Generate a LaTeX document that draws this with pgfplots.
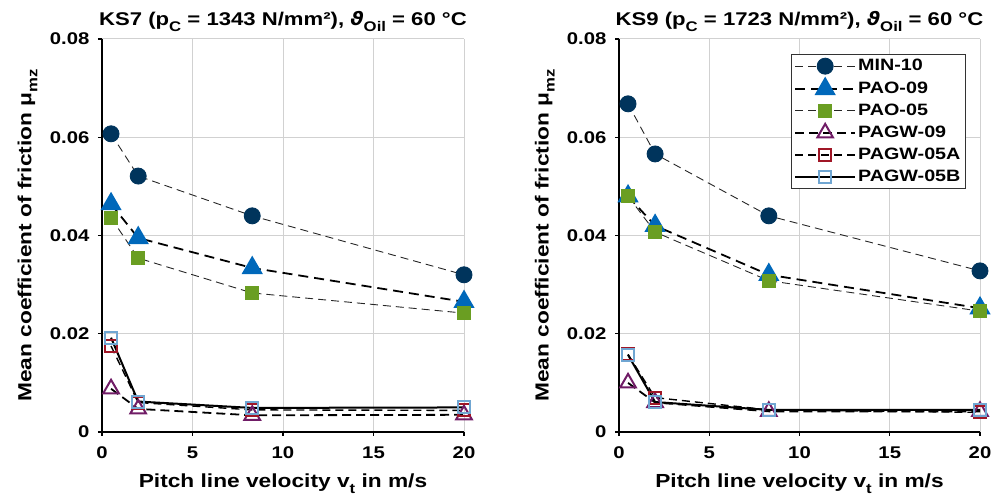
\documentclass[border=0pt]{standalone}
\usepackage{fontspec}
\setmainfont{Liberation Sans}[FakeStretch=1.2]
\newfontfamily\djv{DejaVu Sans}[FakeStretch=1.1]
\usepackage{pgfplots}
\usepackage{pgfplotstable}
\pgfplotsset{compat=1.18}

\definecolor{cMIN}{RGB}{0,52,92}
\definecolor{cPAOnine}{RGB}{0,104,186}
\definecolor{cPAOfive}{RGB}{106,158,34}
\definecolor{cPAGWnine}{RGB}{112,28,102}
\definecolor{cPAGWfiveA}{RGB}{160,22,38}
\definecolor{cPAGWfiveB}{RGB}{112,166,210}

% lowered subscript, a bit larger than \textsubscript
\newcommand{\sub}[1]{\raisebox{-0.32em}{\fontsize{14}{14}\selectfont #1}}
\newcommand{\thetaoil}{{\djv\bfseries\itshape ϑ}\sub{Oil}}

% KS7, p_C = 1343 N/mm^2
\pgfplotstableread{
v    min10   pao09   pao05   pagw09  pagw05a pagw05b
0.5  0.0607  0.0464  0.0436  0.0088  0.0175  0.0192
2.0  0.0521  0.0395  0.0354  0.0047  0.0060  0.0062
8.3  0.0440  0.0334  0.0283  0.0034  0.0045  0.0049
20   0.0320  0.0265  0.0242  0.0035  0.0044  0.0050
}\kssieben

% KS9, p_C = 1723 N/mm^2
\pgfplotstableread{
v    min10   pao09   pao05   pagw09  pagw05a pagw05b
0.5  0.0668  0.0480  0.0480  0.0100  0.0158  0.0157
2.0  0.0566  0.0420  0.0407  0.0060  0.0070  0.0061
8.3  0.0440  0.0320  0.0308  0.0042  0.0045  0.0045
20   0.0328  0.0252  0.0246  0.0042  0.0040  0.0045
}\ksneun

\pgfplotsset{
  fric/.style={
    scale only axis, height=393bp,
    xmin=0, xmax=20, ymin=0, ymax=0.08,
    xtick={0,5,10,15,20},
    ytick={0,0.02,0.04,0.06,0.08},
    yticklabels={0,0.02,0.04,0.06,0.08},
    scaled y ticks=false,
    axis x line*=bottom, axis y line*=left,
    axis line style={line width=2bp, -},
    tick align=outside, major tick length=4bp,
    tick style={black, line width=1.2bp},
    grid=major, grid style={black!18, line width=1bp},
    /pgf/number format/assume math mode=true,
    ticklabel style={font=\bfseries\fontsize{17}{20}\selectfont},
    xticklabel shift=7bp,
    yticklabel style={xshift=-5bp},
    label style={font=\bfseries\fontsize{19}{22}\selectfont},
    title style={font=\bfseries\fontsize{18.5}{22}\selectfont,
      at={(axis description cs:0.5,1.018)}, anchor=base},
    xlabel={Pitch line velocity v\sub{t} in m/s},
    ylabel={Mean coefficient of friction μ\sub{mz}},
    xlabel style={at={(axis description cs:0.5,-0.141)}, anchor=base},
    ylabel style={at={(axis description cs:-0.195,0.5)}, anchor=base},
    legend image code/.code={%
      \draw[mark repeat=2,mark phase=2,##1] plot coordinates {(0bp,0bp) (30bp,0bp) (60bp,0bp)};},
  },
  sMIN/.style={black!85, line width=0.9bp, dash pattern=on 8bp off 5bp,
    mark=*, mark size=8bp, mark options={solid, fill=cMIN, draw=cMIN}},
  sPAOnine/.style={black, line width=1.8bp, dash pattern=on 10bp off 6bp,
    mark=triangle*, mark size=10.5bp, mark options={solid, fill=cPAOnine, draw=cPAOnine}},
  sPAOfive/.style={black!85, line width=0.9bp, dash pattern=on 8bp off 5bp,
    mark=square*, mark size=6.5bp, mark options={solid, fill=cPAOfive, draw=cPAOfive}},
  sPAGWnine/.style={black, line width=1.8bp, dash pattern=on 9bp off 5bp,
    mark=triangle, mark size=9bp, mark options={solid, draw=cPAGWnine, line width=2bp}},
  sPAGWfiveA/.style={black, line width=1.4bp, dash pattern=on 8bp off 5bp,
    mark=square, mark size=6bp, mark options={solid, draw=cPAGWfiveA, line width=2bp}},
  sPAGWfiveB/.style={black, line width=2bp, solid,
    mark=square, mark size=6bp, mark options={solid, draw=cPAGWfiveB, line width=2bp}},
}

\begin{document}
\begin{tikzpicture}
\path[use as bounding box] (0bp,0bp) rectangle (992bp,498bp);

\begin{axis}[fric, width=362bp, at={(102bp,66bp)}, anchor=south west,
  title={KS7 (p\sub{C} = 1343 N/mm²),\ \thetaoil{} = 60 °C}]
\addplot[sMIN] table[x=v, y=min10] {\kssieben};
\addplot[sPAOnine] table[x=v, y=pao09] {\kssieben};
\addplot[sPAOfive] table[x=v, y=pao05] {\kssieben};
\addplot[sPAGWnine] table[x=v, y=pagw09] {\kssieben};
\addplot[sPAGWfiveA] table[x=v, y=pagw05a] {\kssieben};
\addplot[sPAGWfiveB] table[x=v, y=pagw05b] {\kssieben};
\end{axis}

\begin{axis}[fric, width=361bp, at={(619bp,66bp)}, anchor=south west,
  title={KS9 (p\sub{C} = 1723 N/mm²),\ \thetaoil{} = 60 °C},
  legend style={at={(axis description cs:0.961,0.962)}, anchor=north east,
    draw=black!80, line width=1bp, fill=white,
    font=\bfseries\fontsize{16.5}{19}\selectfont,
    cells={anchor=west}, row sep=2.5bp,
    nodes={inner sep=2bp, text height=12.5bp, text depth=3bp}}]
\addplot[sMIN] table[x=v, y=min10] {\ksneun};
\addlegendentry{MIN-10}
\addplot[sPAOnine] table[x=v, y=pao09] {\ksneun};
\addlegendentry{PAO-09}
\addplot[sPAOfive] table[x=v, y=pao05] {\ksneun};
\addlegendentry{PAO-05}
\addplot[sPAGWnine] table[x=v, y=pagw09] {\ksneun};
\addlegendentry{PAGW-09}
\addplot[sPAGWfiveA] table[x=v, y=pagw05a] {\ksneun};
\addlegendentry{PAGW-05A}
\addplot[sPAGWfiveB] table[x=v, y=pagw05b] {\ksneun};
\addlegendentry{PAGW-05B}
\end{axis}
\end{tikzpicture}
\end{document}
